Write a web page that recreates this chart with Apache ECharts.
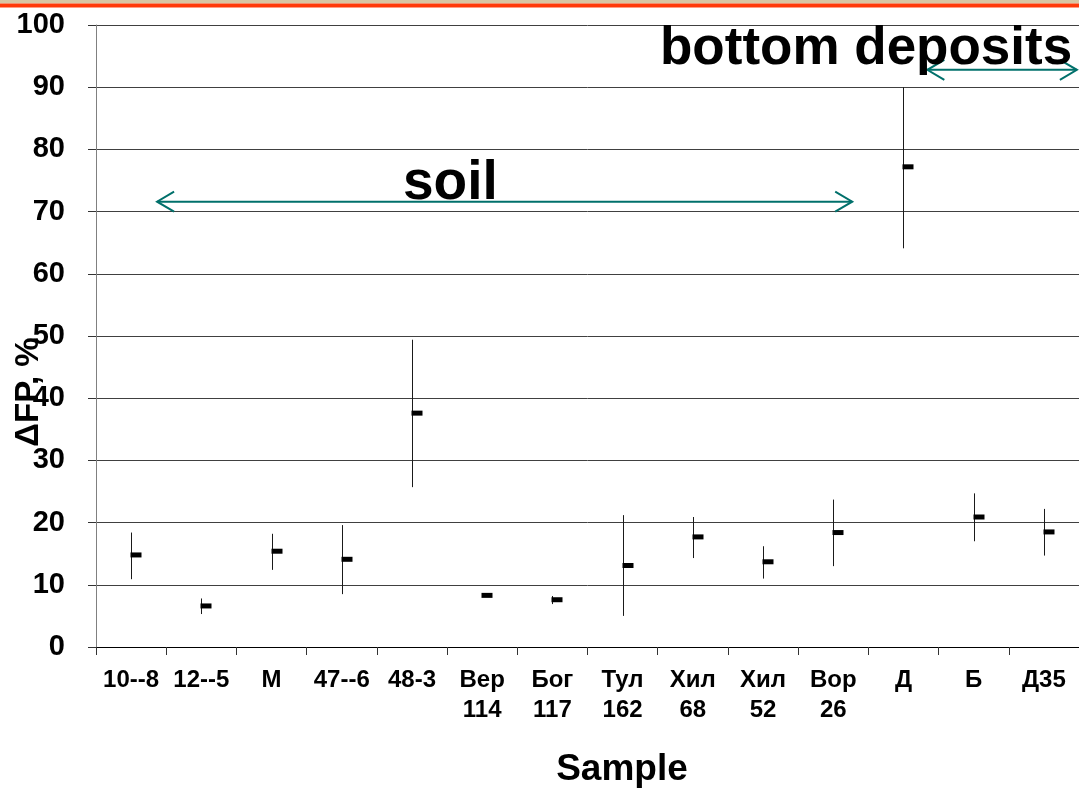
<!DOCTYPE html>
<html>
<head>
<meta charset="utf-8">
<script src="https://cdn.jsdelivr.net/npm/echarts@6/dist/echarts.min.js"></script>
<style>
  html, body { margin: 0; padding: 0; background: #ffffff; }
  #chart { width: 1079px; height: 791px; }
</style>
</head>
<body>
<div id="chart"></div>
<script>
// Samples (x categories)
const samples = ['10--8', '12--5', 'М', '47--6', '48-3', 'Вер\n114', 'Бог\n117',
                 'Тул\n162', 'Хил\n68', 'Хил\n52', 'Вор\n26', 'Д', 'Б', 'Д35'];

// ΔFP, %: mean value and lower / upper bound of the error bar
const meanValues = [14.8, 6.6, 15.4, 14.1, 37.6, 8.3, 7.6, 13.1, 17.7, 13.7, 18.4, 77.2, 20.9, 18.5];
const lowValues  = [10.9, 5.3, 12.4, 8.5, 25.7, 8.2, 6.9, 5.0, 14.3, 11.0, 13.0, 64.1, 17.0, 14.7];
const highValues = [18.4, 7.8, 18.2, 19.6, 49.4, 8.4, 8.2, 21.2, 20.9, 16.2, 23.7, 90.0, 24.7, 22.2];

// Sample groups: span along the category axis (in category units) and level on the ΔFP scale
const groupNames = ['soil', 'bottom deposits'];
const groupStart = [0.87, 11.84];
const groupEnd   = [10.77, 13.97];
const groupLevel = [71.6, 92.8];

const FONT = '"Liberation Sans", Arial, sans-serif';
const TEAL = '#00706b';

const chart = echarts.init(document.getElementById('chart'), null, { renderer: 'canvas' });

const option = {
  backgroundColor: '#ffffff',
  animation: false,
  grid: { left: 96, right: 0, top: 25, bottom: 144, containLabel: false },
  xAxis: [
    {
      type: 'category',
      data: samples,
      boundaryGap: true,
      axisLine: { show: true, lineStyle: { color: '#000000', width: 1 } },
      axisTick: { show: true, length: 8, lineStyle: { color: '#333333', width: 1 } },
      axisLabel: {
        interval: 0,
        margin: 18,
        color: '#000000',
        fontFamily: FONT,
        fontWeight: 'bold',
        fontSize: 24,
        lineHeight: 30
      },
      splitLine: { show: false }
    },
    { type: 'value', min: 0, max: 14, show: false }
  ],
  yAxis: {
    type: 'value',
    min: 0,
    max: 100,
    interval: 10,
    axisLine: { show: true, lineStyle: { color: '#808080', width: 1 } },
    axisTick: { show: true, length: 8, lineStyle: { color: '#333333', width: 1 } },
    axisLabel: {
      margin: 31,
      color: '#000000',
      fontFamily: FONT,
      fontWeight: 'bold',
      fontSize: 29
    },
    splitLine: { show: true, lineStyle: { color: '#404040', width: 1 } }
  },
  graphic: [
    { type: 'rect', shape: { x: 0, y: 0, width: 1079, height: 3.5 }, style: { fill: '#d8c6a4' }, z: 10 },
    { type: 'rect', shape: { x: 0, y: 3.5, width: 1079, height: 4 }, style: { fill: '#ff3a0a' }, z: 10 },
    {
      type: 'text', x: 29, y: 392, rotation: Math.PI / 2, z: 20,
      style: { text: 'ΔFP, %', font: 'bold 33px ' + FONT, fill: '#000000', align: 'center', verticalAlign: 'middle' }
    },
    {
      type: 'text', x: 622, y: 770, z: 20,
      style: { text: 'Sample', font: 'bold 37px ' + FONT, fill: '#000000', align: 'center', verticalAlign: 'middle' }
    },
    {
      type: 'text', x: 403, y: 184, z: 20,
      style: { text: groupNames[0], font: 'bold 55px ' + FONT, fill: '#000000', align: 'left', verticalAlign: 'middle' }
    },
    {
      type: 'text', x: 660, y: 49, z: 20,
      style: { text: groupNames[1], font: 'bold 53px ' + FONT, fill: '#000000', align: 'left', verticalAlign: 'middle' }
    }
  ],
  series: [
    {
      // error bars with the mean marked by a short dash
      type: 'custom',
      name: 'ΔFP',
      xAxisIndex: 0,
      yAxisIndex: 0,
      data: samples.map((s, i) => [i, lowValues[i], highValues[i], meanValues[i]]),
      encode: { x: 0, y: [1, 2, 3] },
      renderItem: function (params, api) {
        const top = api.coord([api.value(0), api.value(2)]);
        const bot = api.coord([api.value(0), api.value(1)]);
        const mid = api.coord([api.value(0), api.value(3)]);
        const cx = Math.round(top[0]) + 0.5;
        return {
          type: 'group',
          children: [
            { type: 'line', shape: { x1: cx, y1: top[1], x2: cx, y2: bot[1] },
              style: { stroke: '#1a1a1a', lineWidth: 1 } },
            { type: 'rect', shape: { x: cx - 1, y: mid[1] - 2.5, width: 11, height: 5 },
              style: { fill: '#000000' } }
          ]
        };
      },
      z: 5
    },
    {
      // double-headed arrows marking the sample groups
      type: 'custom',
      name: 'groups',
      xAxisIndex: 1,
      yAxisIndex: 0,
      data: groupNames.map((g, i) => [groupStart[i], groupEnd[i], groupLevel[i]]),
      encode: { x: [0, 1], y: 2 },
      renderItem: function (params, api) {
        const a = api.coord([api.value(0), api.value(2)]);
        const b = api.coord([api.value(1), api.value(2)]);
        const hx = 17, hy = 10;
        const st = { stroke: TEAL, lineWidth: 2, fill: null };
        return {
          type: 'group',
          children: [
            { type: 'line', shape: { x1: a[0], y1: a[1], x2: b[0], y2: b[1] }, style: st },
            { type: 'polyline', shape: { points: [[a[0] + hx, a[1] - hy], [a[0], a[1]], [a[0] + hx, a[1] + hy]] }, style: st },
            { type: 'polyline', shape: { points: [[b[0] - hx, b[1] - hy], [b[0], b[1]], [b[0] - hx, b[1] + hy]] }, style: st }
          ]
        };
      },
      z: 4
    }
  ]
};

chart.setOption(option);
</script>
</body>
</html>
